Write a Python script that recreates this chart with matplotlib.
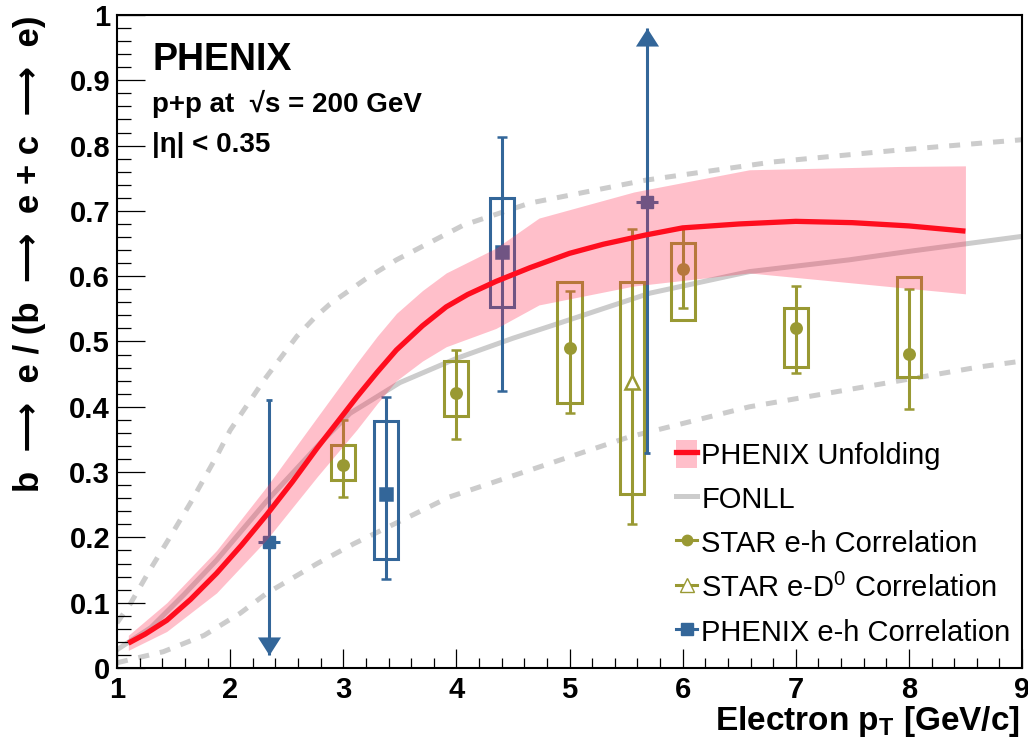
import numpy as np
import matplotlib
matplotlib.use("Agg")
import matplotlib.pyplot as plt
from matplotlib.lines import Line2D
from matplotlib.patches import Patch, Rectangle
from matplotlib.ticker import MultipleLocator

plt.rcParams["font.family"] = ["Liberation Sans", "DejaVu Sans"]
plt.rcParams["mathtext.fontset"] = "custom"
plt.rcParams["mathtext.rm"] = "Liberation Sans"
plt.rcParams["mathtext.bf"] = "Liberation Sans:bold"

# PHENIX unfolding central curve and band
unf_x = [1.1, 1.25, 1.44, 1.65, 1.88, 2.1, 2.32, 2.55, 2.77, 2.95, 3.12, 3.3, 3.47,
         3.7, 3.91, 4.1, 4.35, 4.65, 5.0, 5.3, 5.67, 6.0, 6.5, 7.0, 7.5, 8.0, 8.5]
unf_y = [0.038, 0.052, 0.073, 0.105, 0.145, 0.188, 0.234, 0.285, 0.337, 0.377, 0.415,
         0.453, 0.487, 0.524, 0.553, 0.572, 0.592, 0.613, 0.635, 0.649, 0.663, 0.674,
         0.680, 0.684, 0.682, 0.677, 0.669]
band_x = [1.1, 1.44, 1.88, 2.32, 2.77, 3.12, 3.3, 3.47, 3.7, 3.91, 4.35, 4.73, 5.57,
          6.59, 7.9, 8.5]
band_hi = [0.05, 0.10, 0.18, 0.277, 0.384, 0.467, 0.508, 0.543, 0.578, 0.605, 0.643,
           0.689, 0.729, 0.763, 0.768, 0.769]
band_lo = [0.027, 0.056, 0.115, 0.196, 0.293, 0.365, 0.405, 0.440, 0.470, 0.492, 0.52,
           0.556, 0.585, 0.605, 0.583, 0.573]

# FONLL central and uncertainty curves
fonll_x = [1.0, 1.3, 1.59, 1.88, 2.32, 2.8, 3.06, 3.5, 4.0, 4.5, 4.82, 5.71, 6.59,
           7.47, 8.0, 9.0]
fonll_y = [0.028, 0.062, 0.112, 0.165, 0.255, 0.345, 0.39, 0.437, 0.474, 0.505, 0.523,
           0.574, 0.607, 0.625, 0.638, 0.661]
fup_x = [1.0, 1.12, 1.29, 1.47, 1.65, 1.88, 2.0, 2.3, 2.59, 2.75, 2.88, 3.2, 3.47,
         4.06, 4.65, 5.67, 6.8, 7.9, 9.0]
fup_y = [0.069, 0.099, 0.15, 0.201, 0.253, 0.324, 0.364, 0.441, 0.508, 0.537, 0.557,
         0.596, 0.625, 0.678, 0.712, 0.747, 0.775, 0.793, 0.809]
flo_x = [1.0, 1.41, 1.77, 2.09, 2.32, 2.77, 3.09, 3.94, 5.53, 6.59, 8.62, 9.0]
flo_y = [0.008, 0.025, 0.05, 0.084, 0.114, 0.16, 0.19, 0.262, 0.354, 0.40, 0.461, 0.47]

# STAR e-h correlation
star_x = [3, 4, 5, 6, 7, 8]
star_y = [0.311, 0.421, 0.490, 0.611, 0.521, 0.481]
star_stat_lo = [0.262, 0.351, 0.390, 0.551, 0.452, 0.397]
star_stat_hi = [0.380, 0.487, 0.577, 0.675, 0.585, 0.580]
star_sys_lo = [0.288, 0.386, 0.406, 0.533, 0.461, 0.446]
star_sys_hi = [0.341, 0.470, 0.591, 0.651, 0.551, 0.599]

# STAR e-D0 correlation
d0_x = [5.55]
d0_y = [0.438]
d0_stat_lo = [0.22]
d0_stat_hi = [0.672]
d0_sys_lo = [0.266]
d0_sys_hi = [0.591]

# PHENIX e-h correlation (points with boxes)
ph_x = [3.375, 4.40]
ph_y = [0.267, 0.637]
ph_stat_lo = [0.136, 0.424]
ph_stat_hi = [0.415, 0.813]
ph_sys_lo = [0.167, 0.553]
ph_sys_hi = [0.379, 0.720]

# PHENIX e-h correlation (points with limit arrows)
lim_x = [2.342, 5.686]
lim_y = [0.193, 0.713]
lim_end = [0.41, 0.329]    # capped end of the error bar
lim_tip = [0.02, 0.98]     # arrow tip

RED = "#ff0d1e"
BAND = (1.0, 45 / 255, 82 / 255)
GRAY = "#cccccc"
OLIVE = "#999933"
BLUE = "#336699"
BOX_HALF = 0.107
LIM_HALF = 0.097


def draw_boxes(ax, xs, lo, hi, color):
    for x, a, b in zip(xs, lo, hi):
        ax.add_patch(Rectangle((x - BOX_HALF, a), 2 * BOX_HALF, b - a,
                               fill=False, edgecolor=color, lw=2.2, zorder=2))


def draw_points(ax, xs, ys, lo, hi, color, marker, ms, mfc):
    xs, ys = np.array(xs), np.array(ys)
    yerr = [ys - np.array(lo), np.array(hi) - ys]
    ax.errorbar(xs, ys, yerr=yerr, fmt=marker, color=color, ms=ms, mfc=mfc,
                mec=color, mew=1.8, elinewidth=2.2, capsize=3.5, capthick=2,
                zorder=3)


fig = plt.figure(figsize=(10.28, 7.45), dpi=100)
ax = fig.add_axes([117 / 1028, 77 / 745, 905 / 1028, 653 / 745])

# theory curves
dash = (0, (2.2, 2.2))
ax.plot(fup_x, fup_y, color=GRAY, lw=3.6, ls=dash, zorder=1)
ax.plot(flo_x, flo_y, color=GRAY, lw=3.6, ls=dash, zorder=1)
ax.plot(fonll_x, fonll_y, color=GRAY, lw=3.6, zorder=1, solid_joinstyle="round")

# STAR
draw_boxes(ax, star_x, star_sys_lo, star_sys_hi, OLIVE)
draw_points(ax, star_x, star_y, star_stat_lo, star_stat_hi, OLIVE, "o", 7.5, OLIVE)
draw_boxes(ax, d0_x, d0_sys_lo, d0_sys_hi, OLIVE)
draw_points(ax, d0_x, d0_y, d0_stat_lo, d0_stat_hi, OLIVE, "^", 9.5, "white")

# PHENIX e-h
draw_boxes(ax, ph_x, ph_sys_lo, ph_sys_hi, BLUE)
draw_points(ax, ph_x, ph_y, ph_stat_lo, ph_stat_hi, BLUE, "s", 8, BLUE)

ax.errorbar(lim_x, lim_y, xerr=LIM_HALF, fmt="s", color=BLUE, ms=8,
            elinewidth=2.2, capsize=0, zorder=3)
ax.vlines(lim_x, lim_end, lim_tip, color=BLUE, lw=2.2, zorder=3)
ax.plot(lim_x, lim_end, ls="none", marker="_", ms=5, mew=2, color=BLUE, zorder=3)
down_head = [(0, 0), (-0.64, 1), (0.64, 1), (0, 0)]
up_head = [(0, 0), (-0.64, -1), (0.64, -1), (0, 0)]
for x, end, tip in zip(lim_x, lim_end, lim_tip):
    head = down_head if tip < end else up_head
    ax.plot([x], [tip], ls="none", marker=head, ms=26, color=BLUE, mew=0, zorder=3)

# PHENIX unfolding band + curve
ax.fill_between(band_x, band_lo, band_hi, color=BAND, alpha=0.3, lw=0, zorder=4)
ax.plot(unf_x, unf_y, color=RED, lw=3.8, zorder=5, solid_capstyle="butt",
        solid_joinstyle="round")

ax.set_xlim(1, 9)
ax.set_ylim(0, 1)
ax.xaxis.set_major_locator(MultipleLocator(1))
ax.xaxis.set_minor_locator(MultipleLocator(0.2))
ax.yaxis.set_major_locator(MultipleLocator(0.1))
ax.yaxis.set_minor_locator(MultipleLocator(0.02))
ax.yaxis.set_major_formatter(plt.FuncFormatter(lambda v, p: f"{v:g}"))
ax.tick_params(axis="x", which="major", direction="in", length=14, width=0.9,
               labelsize=21, pad=6)
ax.tick_params(axis="x", which="minor", direction="in", length=7, width=0.9)
ax.tick_params(axis="y", which="major", direction="in", length=20, width=0.9,
               labelsize=21, pad=5)
ax.tick_params(axis="y", which="minor", direction="in", length=10, width=0.9)
for lab in ax.get_xticklabels() + ax.get_yticklabels():
    lab.set_fontweight("bold")
for sp in ax.spines.values():
    sp.set_linewidth(1.5)

ax.set_xlabel(r"Electron p$_{\mathbf{T}}$ [GeV/c]", fontsize=24,
              fontweight="bold", loc="right")
ax.xaxis.set_label_coords(0.998, -0.055)
ax.set_ylabel("b  \u27f6  e / (b  \u27f6  e + c  \u27f6  e)", fontsize=25,
              fontweight="bold", loc="top")
ax.yaxis.set_label_coords(-0.078, 1.0)

ax.text(0.0387, 0.916, "PHENIX", transform=ax.transAxes, fontsize=27,
        fontweight="bold")
ax.text(0.0387, 0.851, "p+p at  \u221as = 200 GeV", transform=ax.transAxes,
        fontsize=20, fontweight="bold")
ax.text(0.0387, 0.790, "|\u03b7| < 0.35", transform=ax.transAxes,
        fontsize=20, fontweight="bold")

handles = [
    (Patch(facecolor=BAND, alpha=0.3, lw=0), Line2D([], [], color=RED, lw=3.8)),
    Line2D([], [], color=GRAY, lw=3.6),
    Line2D([], [], color=OLIVE, lw=2.2, marker="o", ms=7.5),
    Line2D([], [], color=OLIVE, lw=2.2, marker="^", ms=9.5, mfc="white"),
    Line2D([], [], color=BLUE, lw=2.2, marker="s", ms=8),
]
labels = ["PHENIX Unfolding", "FONLL", "STAR e-h Correlation",
          r"STAR e-D$^0$ Correlation", "PHENIX e-h Correlation"]
fig.legend(handles, labels, loc="upper left",
           bbox_to_anchor=(676 / 1028, 1 - 440 / 745), frameon=False,
           fontsize=21, handlelength=0.72, handleheight=1.1, handletextpad=0.15,
           labelspacing=0.49, borderpad=0, borderaxespad=0)

fig.savefig("out.png", dpi=100)
